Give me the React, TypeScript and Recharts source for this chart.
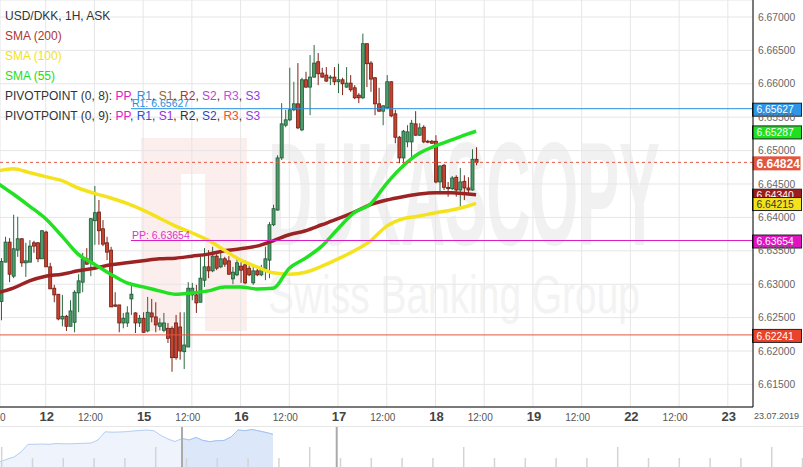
import React from "react";
import {
  ComposedChart,
  AreaChart,
  Area,
  Bar,
  Line,
  XAxis,
  YAxis,
  CartesianGrid,
  ReferenceLine,
} from "recharts";

// hourly candles, hour 0 = 12.07 00:00 (weekend collapsed)
const firstHour = -11;

const opens = [
  6.6274, 6.6333, 6.6363, 6.6312, 6.6351, 6.6368, 6.6332, 6.6333, 6.6362, 6.6362,
  6.6338, 6.6378, 6.6326, 6.6294, 6.6285, 6.6248, 6.6252, 6.6237, 6.6243, 6.6287,
  6.6303, 6.6338, 6.6332, 6.6395, 6.6408, 6.6383, 6.6362, 6.6351, 6.6269, 6.6269,
  6.6242, 6.6242, 6.6278, 6.6257, 6.6242, 6.6249, 6.623, 6.6257, 6.6251, 6.6237,
  6.6231, 6.6234, 6.6234, 6.6242, 6.6236, 6.6199, 6.6206, 6.6284, 6.6284, 6.6273,
  6.6306, 6.6326, 6.632, 6.6342, 6.6326, 6.6338, 6.6335, 6.6308, 6.6314, 6.6327,
  6.6329, 6.6324, 6.6302, 6.632, 6.6314, 6.6323, 6.6336, 6.6389, 6.6411, 6.6489,
  6.6538, 6.6546, 6.6561, 6.657, 6.6531, 6.6606, 6.6595, 6.661, 6.6633, 6.6616,
  6.6613, 6.6609, 6.661, 6.6603, 6.6606, 6.6595, 6.6601, 6.6594, 6.6583, 6.6579,
  6.666, 6.6631, 6.6609, 6.657, 6.6559, 6.6564, 6.6603, 6.6555, 6.652, 6.6489,
  6.6513, 6.6513, 6.654, 6.6523, 6.6535, 6.6514, 6.6514, 6.6514, 6.6453, 6.6478,
  6.6445, 6.6443, 6.646, 6.6441, 6.6454, 6.6444, 6.6441, 6.6487,
];

const closes = [
  6.6334, 6.6363, 6.6315, 6.6353, 6.6368, 6.6332, 6.6335, 6.6357, 6.6357, 6.6338,
  6.638, 6.6326, 6.6293, 6.6284, 6.6248, 6.6252, 6.6237, 6.626, 6.6288, 6.6305,
  6.6338, 6.633, 6.6398, 6.6407, 6.638, 6.636, 6.6348, 6.6266, 6.6267, 6.6242,
  6.6249, 6.6257, 6.6285, 6.6242, 6.6249, 6.6228, 6.6258, 6.6251, 6.6239, 6.6242,
  6.6242, 6.6219, 6.619, 6.619, 6.62, 6.6209, 6.6294, 6.6294, 6.6272, 6.6309,
  6.6326, 6.632, 6.6342, 6.6324, 6.6338, 6.633, 6.6315, 6.6318, 6.6332, 6.6321,
  6.6302, 6.6314, 6.632, 6.6314, 6.6323, 6.6338, 6.6389, 6.6413, 6.6489, 6.654,
  6.6546, 6.6561, 6.657, 6.6534, 6.6606, 6.6595, 6.661, 6.6631, 6.6615, 6.661,
  6.6604, 6.661, 6.6603, 6.6606, 6.66, 6.6601, 6.6591, 6.6579, 6.6579, 6.666,
  6.663, 6.6607, 6.657, 6.6559, 6.6567, 6.6603, 6.6552, 6.652, 6.6489, 6.6529,
  6.6528, 6.6541, 6.6523, 6.6534, 6.6513, 6.6513, 6.6511, 6.6453, 6.6477, 6.6445,
  6.6443, 6.6459, 6.6441, 6.6453, 6.6444, 6.6441, 6.6487, 6.64824,
];

const highs = [
  6.6339, 6.6371, 6.6369, 6.6404, 6.6401, 6.6369, 6.6362, 6.6366, 6.6365, 6.6363,
  6.6381, 6.638, 6.6332, 6.6299, 6.6285, 6.6284, 6.6254, 6.6276, 6.6291, 6.6315,
  6.6347, 6.6354, 6.6399, 6.6447, 6.6426, 6.6396, 6.6371, 6.6356, 6.6288, 6.6269,
  6.6257, 6.6267, 6.6299, 6.6258, 6.6254, 6.6258, 6.6281, 6.6278, 6.6273, 6.6249,
  6.6257, 6.6242, 6.6237, 6.6254, 6.6258, 6.6258, 6.6303, 6.6302, 6.6299, 6.6341,
  6.6354, 6.6351, 6.6356, 6.6345, 6.6347, 6.6341, 6.6342, 6.6326, 6.6338, 6.6333,
  6.6336, 6.6332, 6.6326, 6.6324, 6.6329, 6.6356, 6.6393, 6.6419, 6.6493, 6.6571,
  6.6561, 6.6624, 6.6603, 6.6631, 6.6609, 6.6618, 6.6643, 6.6658, 6.6646, 6.6624,
  6.6625, 6.6613, 6.6625, 6.663, 6.6609, 6.6625, 6.6613, 6.6598, 6.6586, 6.6675,
  6.666, 6.6634, 6.661, 6.6594, 6.6568, 6.6613, 6.6604, 6.6561, 6.6522, 6.6531,
  6.6538, 6.6546, 6.6559, 6.6541, 6.6538, 6.6516, 6.6516, 6.6523, 6.6478, 6.648,
  6.6453, 6.6462, 6.6463, 6.6474, 6.6463, 6.646, 6.6502, 6.6505,
];

const lows = [
  6.6246, 6.6333, 6.6303, 6.6309, 6.6341, 6.6326, 6.6311, 6.6333, 6.6347, 6.6333,
  6.6338, 6.6326, 6.6293, 6.6273, 6.6246, 6.6237, 6.623, 6.6237, 6.6228, 6.6258,
  6.6288, 6.6329, 6.6312, 6.6359, 6.6359, 6.6357, 6.6336, 6.6266, 6.6266, 6.6228,
  6.6234, 6.6236, 6.6254, 6.6227, 6.6236, 6.6227, 6.6228, 6.6243, 6.6228, 6.6231,
  6.6228, 6.6212, 6.6169, 6.6187, 6.6187, 6.6173, 6.6206, 6.6276, 6.6257, 6.6273,
  6.6296, 6.6309, 6.6318, 6.6321, 6.6324, 6.6326, 6.6314, 6.63, 6.6312, 6.6302,
  6.63, 6.6312, 6.6299, 6.6312, 6.6312, 6.6306, 6.6309, 6.6387, 6.641, 6.6486,
  6.6535, 6.6544, 6.6559, 6.6532, 6.6529, 6.6594, 6.6553, 6.6609, 6.6598, 6.6609,
  6.6603, 6.6598, 6.6598, 6.6586, 6.6583, 6.6594, 6.6588, 6.6577, 6.6571, 6.6577,
  6.6595, 6.6588, 6.6553, 6.6558, 6.6538, 6.6562, 6.655, 6.6511, 6.6481, 6.6475,
  6.6505, 6.649, 6.6522, 6.6522, 6.6511, 6.6511, 6.651, 6.6451, 6.6438, 6.6441,
  6.6431, 6.6441, 6.6431, 6.6416, 6.6426, 6.6434, 6.644, 6.6478,
];

// moving averages (first point at the left edge)
const smaHours = [
  -12, -8, -4, 0, 4, 8, 12, 16, 20, 24, 28, 32, 36, 40, 44, 48, 52, 56, 60, 64,
  68, 72, 76, 80, 84, 88, 92, 96, 100, 104, 106,
];
const sma200 = [
  6.6287, 6.6294, 6.6305, 6.6312, 6.6315, 6.632, 6.6324, 6.6329, 6.6332, 6.6335,
  6.6338, 6.6339, 6.6342, 6.6345, 6.635, 6.6353, 6.6357, 6.6365, 6.6374, 6.638,
  6.6389, 6.6398, 6.6408, 6.6419, 6.6426, 6.6431, 6.6435, 6.6437, 6.6437, 6.6435,
  6.6434,
];
const sma100 = [
  6.6469, 6.6473, 6.6467, 6.6461, 6.6455, 6.6444, 6.6436, 6.6429, 6.6421, 6.6411,
  6.6399, 6.6387, 6.6377, 6.6366, 6.6351, 6.6336, 6.6326, 6.6317, 6.6315, 6.6318,
  6.6327, 6.6338, 6.635, 6.6365, 6.6387, 6.6398, 6.6402, 6.6407, 6.6411, 6.6417,
  6.6421,
];
const sma55 = [
  6.6452, 6.6435, 6.6417, 6.6398, 6.6372, 6.6345, 6.633, 6.6315, 6.6302, 6.6296,
  6.629, 6.6285, 6.6287, 6.629, 6.6296, 6.6296, 6.6293, 6.6294, 6.6324, 6.6339,
  6.6357, 6.6383, 6.6407, 6.642, 6.6451, 6.6477, 6.6496, 6.6507, 6.6516, 6.6525,
  6.6529,
];

const priceTicks = [
  6.615, 6.62, 6.625, 6.63, 6.635, 6.64, 6.645, 6.65, 6.655, 6.66, 6.665, 6.67,
];
const timeTicks = [-12, 0, 12, 24, 36, 48, 60, 72, 84, 96, 108, 120, 132, 144, 156, 168];
const timeLabels = [
  "12:00", "12", "12:00", "15", "12:00", "16", "12:00", "17", "12:00", "18",
  "12:00", "19", "12:00", "22", "12:00", "23",
];

const lastPrice = 6.64824;
const pivotStart = 21; // Fri 21:00, weekly close
const r1 = 6.65627;
const pp = 6.63654;
const s1 = 6.62241;
const lastSma55 = 6.65287;
const lastSma200 = 6.6434;
const lastSma100 = 6.64215;

// navigator sparkline (relative height) and its selected window
const navValues = [
  5.3, 7.8, 10, 15, 22.7, 22.7, 23, 22.7, 23.5, 23.2, 23.2, 23.5, 23.7, 24, 27,
  35.2, 34.8, 35, 35.3, 36, 36.5, 37, 36.2, 31.5, 28, 25.5, 28.5, 27, 29.5, 26.5,
  25.3, 26.3, 26.5, 30, 37, 36.3, 37.5, 36, 34.5, 32.7,
];
const navSelFrom = 26;
const navSelTo = 48.1;

const candles = opens.map((o, i) => ({
  t: firstHour + i,
  open: o,
  close: closes[i],
  high: highs[i],
  low: lows[i],
  range: [lows[i], highs[i]],
}));

const smaRows = smaHours.map((t, i) => ({
  t,
  sma200: sma200[i],
  sma100: sma100[i],
  sma55: sma55[i],
}));

const navRows = navValues.map((v, i) => ({
  i,
  all: v,
  sel: i >= navSelFrom ? v : null,
}));

const navTicks = Array.from({ length: 27 }, (_, k) => 0.24 + 4.4 * k);

const FONT = "Arial, 'Liberation Sans', sans-serif";

function Candle(props: any) {
  const { x, y, width, height, payload } = props;
  if (!payload || x == null) return null;
  const top = Math.min(y, y + height);
  const h = Math.abs(height);
  const span = payload.high - payload.low;
  const py = (p: number) => (span > 0 ? top + ((payload.high - p) / span) * h : top);
  const cx = x + width / 2;
  const up = payload.close >= payload.open;
  const bTop = py(Math.max(payload.open, payload.close));
  const bBot = py(Math.min(payload.open, payload.close));
  return (
    <g>
      <line x1={cx} x2={cx} y1={top} y2={top + h} stroke={up ? "#2b6a40" : "#7d2418"} strokeWidth={1} />
      <rect
        x={cx - 1.5}
        y={bTop}
        width={3}
        height={Math.max(1, bBot - bTop)}
        fill={up ? "#4c9d6c" : "#c8432f"}
        stroke={up ? "#1e5632" : "#6e1c12"}
        strokeWidth={0.8}
      />
    </g>
  );
}

function TimeTick(props: any) {
  const { x, y, payload } = props;
  const v = payload.value as number;
  const label = timeLabels[timeTicks.indexOf(v)];
  const isDay = v % 24 === 0;
  return (
    <text
      x={isDay ? x + 1 : x - 4}
      y={y + 13.5}
      textAnchor="middle"
      fontFamily={FONT}
      fontSize={isDay ? 13 : 10}
      fontWeight={isDay ? "bold" : "normal"}
      fill={isDay ? "#444" : "#555"}
    >
      {label}
    </text>
  );
}

function Tag(props: any) {
  const { viewBox, price, fill, color, border, big, caption, captionColor } = props;
  if (!viewBox) return null;
  const { x, y, width } = viewBox;
  const right = x + width;
  const h = big ? 14 : 13;
  return (
    <g>
      {caption && (
        <text x={x + 1} y={y - 2} fontFamily={FONT} fontSize={10.5} fill={captionColor}>
          {caption}
        </text>
      )}
      <rect
        x={right - 0.5}
        y={y + 1 - h / 2}
        width={big ? 48 : 49}
        height={h}
        fill={fill}
        stroke={border ? "#222" : "none"}
        strokeWidth={1}
      />
      <text
        x={right + 3.5}
        y={y + 1 + (big ? 4.4 : 3.7)}
        fontFamily={FONT}
        fontSize={big ? 12 : 10.3}
        fontWeight={big ? "bold" : "normal"}
        fill={color}
      >
        {price.toFixed(5)}
      </text>
    </g>
  );
}

export default function App() {
  return (
    <div
      style={{
        position: "absolute",
        left: 0,
        top: 0,
        width: 803,
        height: 467,
        background: "#fff",
        overflow: "hidden",
        fontFamily: FONT,
      }}
    >
      {/* watermark */}
      <svg width={803} height={407} style={{ position: "absolute", left: 0, top: 0 }}>
        <rect x={141} y={138} width={106} height={193} fill="#fdeeee" />
        <rect x={181} y={174} width={24} height={157} fill="#ffffff" />
        <text
          x={268}
          y={245}
          fontFamily={FONT}
          fontWeight="bold"
          fontSize={146}
          textLength={392}
          lengthAdjust="spacingAndGlyphs"
          fill="#f1f1f1"
        >
          DUKASCOPY
        </text>
        <text
          x={268}
          y={313}
          fontFamily={FONT}
          fontSize={53}
          textLength={372}
          lengthAdjust="spacingAndGlyphs"
          fill="#f3f3f3"
        >
          Swiss Banking Group
        </text>
      </svg>

      <div style={{ position: "absolute", left: 0, top: 0 }}>
        <ComposedChart
          width={803}
          height={427}
          data={candles}
          margin={{ top: 0, right: 0, bottom: 0, left: 0 }}
        >
          <CartesianGrid stroke="#e6e6e6" />
          <XAxis
            dataKey="t"
            type="number"
            domain={[-11.25, 174.2]}
            allowDataOverflow
            ticks={timeTicks}
            interval={0}
            height={20}
            tickLine={false}
            tickSize={0}
            tickMargin={0}
            axisLine={{ stroke: "#000" }}
            tick={<TimeTick />}
          />
          <YAxis
            orientation="right"
            type="number"
            domain={[6.61162, 6.67254]}
            allowDataOverflow
            ticks={priceTicks}
            width={50}
            tickLine={false}
            tickSize={3}
            axisLine={{ stroke: "#000" }}
            tick={{ fill: "#666", fontSize: 10.3, fontFamily: FONT }}
            tickFormatter={(v: number) => v.toFixed(5)}
          />
          <Bar dataKey="range" barSize={3} shape={<Candle />} isAnimationActive={false} />
          <Line
            data={smaRows}
            dataKey="sma200"
            type="monotone"
            stroke="#9b2323"
            strokeWidth={3.5}
            dot={false}
            activeDot={false}
            isAnimationActive={false}
          />
          <Line
            data={smaRows}
            dataKey="sma100"
            type="monotone"
            stroke="#f4e31c"
            strokeWidth={3.5}
            dot={false}
            activeDot={false}
            isAnimationActive={false}
          />
          <Line
            data={smaRows}
            dataKey="sma55"
            type="monotone"
            stroke="#22e022"
            strokeWidth={3.5}
            dot={false}
            activeDot={false}
            isAnimationActive={false}
          />
          <ReferenceLine
            segment={[
              { x: pivotStart, y: r1 },
              { x: 174.2, y: r1 },
            ]}
            stroke="#2a8ee0"
            label={
              <Tag
                price={r1}
                fill="#2e95e6"
                color="#fff"
                border
                caption={"R1: " + r1.toFixed(5)}
                captionColor="#2a8ee0"
              />
            }
          />
          <ReferenceLine
            y={lastSma55}
            stroke="none"
            label={<Tag price={lastSma55} fill="#1fe01f" color="#fff" border />}
          />
          <ReferenceLine
            y={lastPrice}
            stroke="#e05a45"
            strokeDasharray="3 3"
            label={<Tag price={lastPrice} fill="#e2553f" color="#fff" big />}
          />
          <ReferenceLine
            y={lastSma200}
            stroke="none"
            label={<Tag price={lastSma200} fill="#9c1d1d" color="#fff" border />}
          />
          <ReferenceLine
            y={lastSma100}
            stroke="none"
            label={<Tag price={lastSma100} fill="#f3e31b" color="#333" border />}
          />
          <ReferenceLine
            segment={[
              { x: pivotStart, y: pp },
              { x: 174.2, y: pp },
            ]}
            stroke="#d61fc6"
            label={
              <Tag
                price={pp}
                fill="#e013c3"
                color="#fff"
                border
                caption={"PP: " + pp.toFixed(5)}
                captionColor="#e030d0"
              />
            }
          />
          <ReferenceLine
            y={s1}
            stroke="#e5533d"
            label={<Tag price={s1} fill="#e8432b" color="#fff" border />}
          />
        </ComposedChart>
      </div>

      {/* legend */}
      <div
        style={{
          position: "absolute",
          left: 5,
          top: 6,
          fontSize: 12,
          lineHeight: "20px",
          color: "#333",
          whiteSpace: "nowrap",
        }}
      >
        <div>USD/DKK, 1H, ASK</div>
        <div style={{ color: "#b03434" }}>SMA (200)</div>
        <div style={{ color: "#f2e21a" }}>SMA (100)</div>
        <div style={{ color: "#22dd22" }}>SMA (55)</div>
        <div>
          PIVOTPOINT (0, 8): <span style={{ color: "#e020c0" }}>PP</span>,{" "}
          <span style={{ color: "#2a90e0" }}>R1</span>,{" "}
          <span style={{ color: "#8b6a30" }}>S1</span>,{" "}
          <span style={{ color: "#b03434" }}>R2</span>,{" "}
          <span style={{ color: "#c040d0" }}>S2</span>,{" "}
          <span style={{ color: "#c050e0" }}>R3</span>,{" "}
          <span style={{ color: "#9040e0" }}>S3</span>
        </div>
        <div>
          PIVOTPOINT (0, 9): <span style={{ color: "#e020c0" }}>PP</span>,{" "}
          <span style={{ color: "#3050e0" }}>R1</span>,{" "}
          <span style={{ color: "#9030e0" }}>S1</span>,{" "}
          <span style={{ color: "#333" }}>R2</span>,{" "}
          <span style={{ color: "#3040c0" }}>S2</span>,{" "}
          <span style={{ color: "#f05030" }}>R3</span>,{" "}
          <span style={{ color: "#9040e0" }}>S3</span>
        </div>
      </div>

      <div style={{ position: "absolute", left: 754, top: 411, fontSize: 9, color: "#555" }}>
        23.07.2019
      </div>

      {/* navigator */}
      <div
        style={{
          position: "absolute",
          left: 0,
          top: 426,
          width: 803,
          height: 41,
          borderTop: "1px solid #e6e6e6",
        }}
      >
        <AreaChart width={803} height={40} data={navRows} margin={{ top: 0, right: 0, bottom: 0, left: 0 }}>
          <XAxis dataKey="i" type="number" domain={[0, 114.71]} allowDataOverflow hide />
          <YAxis type="number" domain={[0, 40]} allowDataOverflow hide />
          <Area
            dataKey="all"
            type="linear"
            stroke="#b4cff3"
            fill="#eef3fc"
            fillOpacity={1}
            isAnimationActive={false}
          />
          <Area
            dataKey="sel"
            type="linear"
            stroke="#a6c4f0"
            fill="#dce8fa"
            fillOpacity={1}
            isAnimationActive={false}
          />
          {navTicks.map((x, k) => (
            <ReferenceLine
              key={k}
              segment={[
                { x, y: 0 },
                { x, y: k % 5 === 0 ? 20 : 9 },
              ]}
              stroke="#d4d4d4"
              strokeWidth={1.5}
              ifOverflow="visible"
            />
          ))}
          <ReferenceLine x={navSelFrom} stroke="#aaaaaa" strokeWidth={2} ifOverflow="visible" />
          <ReferenceLine x={navSelTo} stroke="#aaaaaa" strokeWidth={2} ifOverflow="visible" />
        </AreaChart>
      </div>
    </div>
  );
}
